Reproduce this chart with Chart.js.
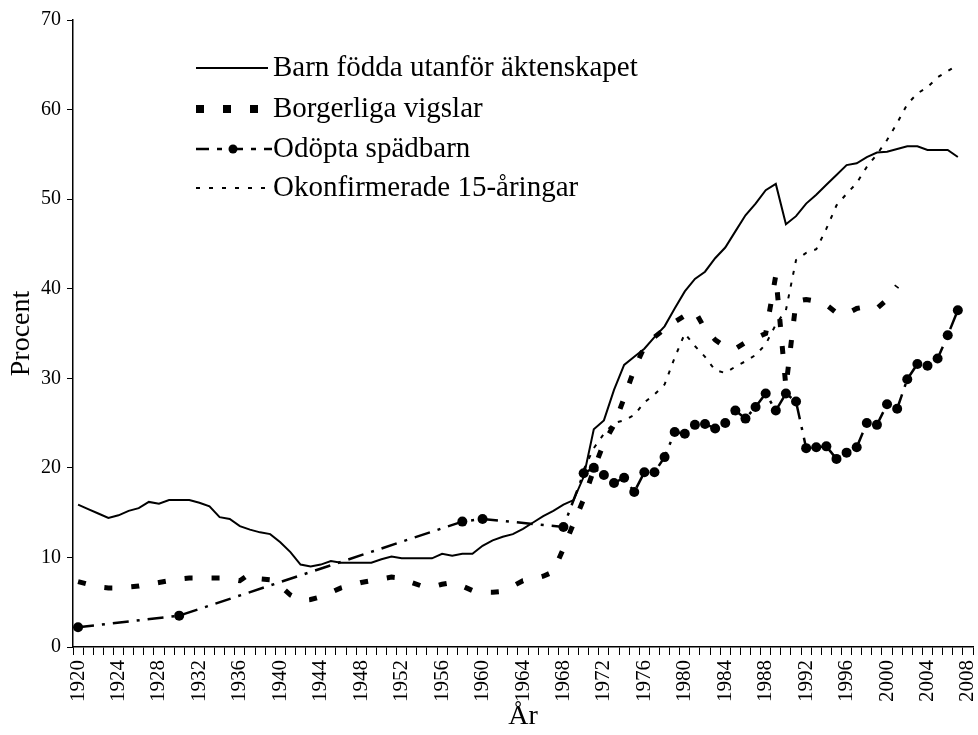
<!DOCTYPE html>
<html><head><meta charset="utf-8">
<script src="https://cdn.jsdelivr.net/npm/chart.js@4.4.0/dist/chart.umd.min.js"></script>
<style>html,body{margin:0;padding:0;background:#fff;}#wrap{width:978px;height:735px;}</style>
</head><body><div id="wrap"><canvas id="c" width="978" height="735"></canvas></div>
<script>
const firstYear = 1920, lastYear = 2008;
const years = [];
for (let y = firstYear; y <= lastYear; y++) years.push(String(y));

// 1920 ... 2008
const barnUtanforAktenskap = [
 15.9,15.4,14.9,14.4,14.7,15.2,15.5,16.2,16.0,16.4,
 16.4,16.4,16.1,15.7,14.5,14.3,13.5,13.1,12.8,12.6,
 11.7,10.6,9.2,9.0,9.2,9.6,9.4,9.4,9.4,9.4,
 9.8,10.1,9.9,9.9,9.9,9.9,10.4,10.2,10.4,10.4,
 11.3,11.9,12.3,12.6,13.2,13.9,14.6,15.2,15.9,16.4,
 19.0,24.3,25.3,28.7,31.5,32.4,33.3,34.6,35.8,37.8,
 39.7,41.1,41.9,43.4,44.6,46.4,48.2,49.5,51.0,51.7,
 47.2,48.1,49.5,50.5,51.6,52.7,53.8,54.0,54.7,55.2,
 55.3,55.6,55.9,55.9,55.5,55.5,55.5,54.7,null];

const borgerligaVigslar = [
 7.3,7.0,6.7,6.6,6.6,6.7,6.8,7.0,7.2,7.4,
 7.6,7.7,7.7,7.7,7.7,7.6,7.4,8.2,7.6,7.5,
 6.8,5.8,5.2,5.3,5.6,6.1,6.6,6.9,7.2,7.4,
 7.6,7.8,7.7,7.2,6.8,6.7,7.0,7.2,6.8,6.3,
 6.1,6.1,6.2,6.8,7.4,7.6,7.9,8.4,11.0,13.8,
 16.5,19.8,22.8,24.8,27.8,31.0,33.5,34.6,35.5,36.3,
 37.0,37.5,35.5,34.3,33.5,33.3,34.0,34.5,35.0,41.5,
 29.0,38.6,38.8,38.6,38.2,37.3,37.2,37.8,38.0,37.8,
 38.8,40.3,null,null,null,null,null,null,null];

const odoptaSpadbarn = [
 2.2,null,null,null,null,null,null,null,null,null,
 3.5,null,null,null,null,null,null,null,null,null,
 null,null,null,null,null,null,null,null,null,null,
 null,null,null,null,null,null,null,null,14.0,null,
 14.3,null,null,null,null,null,null,null,13.4,null,
 19.4,20.0,19.2,18.3,18.9,17.3,19.5,19.5,21.2,24.0,
 23.8,24.8,24.9,24.4,25.0,26.4,25.5,26.8,28.3,26.4,
 28.3,27.4,22.2,22.3,22.4,21.0,21.7,22.3,25.0,24.8,
 27.1,26.6,29.9,31.6,31.4,32.2,34.8,37.6,null];

const okonfirmerade15 = [
 null,null,null,null,null,null,null,null,null,null,
 null,null,null,null,null,null,null,null,null,null,
 null,null,null,null,null,null,null,null,null,null,
 null,null,null,null,null,null,null,null,null,null,
 null,null,null,null,null,null,null,null,null,null,
 19.8,22.2,23.8,25.0,25.3,25.9,27.3,28.2,29.3,32.3,
 35.0,33.6,32.4,30.9,30.6,31.3,31.9,32.6,33.8,36.0,
 37.6,43.2,44.0,44.4,46.7,49.3,50.6,51.8,53.6,55.0,
 56.6,58.5,60.6,61.8,62.5,63.6,64.3,65.0,null];

const seriesNames = ['Barn födda utanför äktenskapet','Borgerliga vigslar','Odöpta spädbarn','Okonfirmerade 15-åringar'];
const yTicks = [0,10,20,30,40,50,60,70];

const serif = '"Liberation Serif", "Times New Roman", serif';

const legendPlugin = {
  id: 'refLegend',
  afterDraw(chart) {
    const c = chart.ctx;
    const x0 = 196, x1 = 268, tx = 273;
    const rows = [68, 109, 149, 188];
    c.save();
    c.strokeStyle = '#000'; c.fillStyle = '#000';
    c.lineWidth = 2; c.setLineDash([]);
    c.beginPath(); c.moveTo(x0, rows[0]); c.lineTo(x1, rows[0]); c.stroke();
    c.lineWidth = 8; c.setLineDash([8, 19]);
    c.beginPath(); c.moveTo(x0, rows[1]); c.lineTo(x1, rows[1]); c.stroke();
    c.lineWidth = 2.5; c.setLineDash([13, 8, 5, 8]);
    c.beginPath(); c.moveTo(x0, rows[2]); c.lineTo(x1 + 4, rows[2]); c.stroke();
    c.setLineDash([]);
    c.beginPath(); c.arc(233, rows[2], 4.5, 0, Math.PI * 2); c.fill();
    c.lineWidth = 2; c.setLineDash([4, 9]);
    c.beginPath(); c.moveTo(x0, rows[3]); c.lineTo(x1 + 4, rows[3]); c.stroke();
    c.setLineDash([]);
    c.font = '29px ' + serif;
    c.textBaseline = 'middle';
    c.textAlign = 'left';
    seriesNames.forEach((t, i) => c.fillText(t, tx, rows[i]));
    c.restore();
  }
};

new Chart(document.getElementById('c'), {
  type: 'line',
  data: {
    labels: years,
    datasets: [
      { label: seriesNames[0], data: barnUtanforAktenskap, borderColor: '#000', borderWidth: 2, pointRadius: 0, tension: 0, fill: false },
      { label: seriesNames[1], data: borgerligaVigslar, borderColor: '#000', borderWidth: 5, borderDash: [8, 19], borderCapStyle: 'butt', pointRadius: 0, tension: 0, fill: false },
      { label: seriesNames[2], data: odoptaSpadbarn, borderColor: '#000', borderWidth: 2.5, borderDash: [16, 8, 3, 8], pointRadius: 5, pointBackgroundColor: '#000', pointBorderColor: '#000', pointBorderWidth: 0, spanGaps: true, tension: 0, fill: false },
      { label: seriesNames[3], data: okonfirmerade15, borderColor: '#000', borderWidth: 2, borderDash: [4, 8], pointRadius: 0, tension: 0, fill: false }
    ]
  },
  options: {
    responsive: false,
    animation: false,
    events: [],
    layout: { padding: { top: 20, right: 3, left: 0, bottom: 0 } },
    plugins: { legend: { display: false }, tooltip: { enabled: false } },
    scales: {
      x: {
        type: 'category',
        offset: true,
        grid: { display: true, drawOnChartArea: false, drawTicks: true, tickLength: 8, offset: true, color: '#000', lineWidth: 1 },
        border: { display: true, color: '#000', width: 1.5 },
        ticks: {
          autoSkip: false, minRotation: 90, maxRotation: 90, padding: 5, color: '#000',
          font: { family: serif, size: 21 },
          callback: (v, i) => ((i % 4 === 0) ? years[i] : '')
        },
        title: { display: true, text: 'År', color: '#000', font: { family: serif, size: 28 }, padding: { top: 0, bottom: 2 } },
        afterFit(s) { s.height = 88; s.paddingLeft = 0; s.paddingRight = 0; }
      },
      y: {
        min: 0, max: 70,
        afterBuildTicks(s) { s.ticks = yTicks.map(v => ({ value: v })); },
        grid: { display: true, drawOnChartArea: false, drawTicks: true, tickLength: 6, color: '#000', lineWidth: 1 },
        border: { display: true, color: '#000', width: 1.5 },
        ticks: { color: '#000', padding: 6, font: { family: serif, size: 20 } },
        title: { display: true, text: 'Procent', color: '#000', font: { family: serif, size: 28 }, padding: { top: 5, bottom: 0 } },
        afterFit(s) { s.width = 73; }
      }
    }
  },
  plugins: [legendPlugin]
});
</script>
</body></html>
